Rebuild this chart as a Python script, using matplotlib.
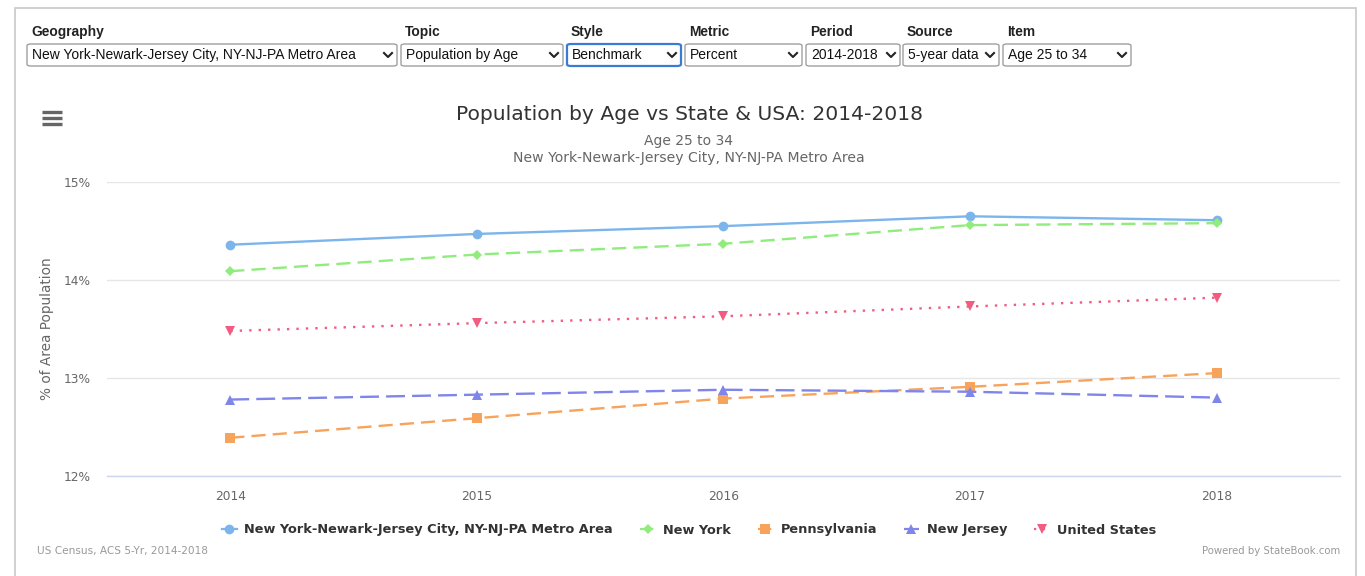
import matplotlib
matplotlib.use("Agg")
import matplotlib.pyplot as plt
from matplotlib.patches import FancyBboxPatch, Rectangle
from matplotlib.lines import Line2D

W, H = 1365, 576

years = [2014, 2015, 2016, 2017, 2018]
metro = [14.36, 14.47, 14.55, 14.65, 14.61]
new_york = [14.09, 14.26, 14.37, 14.56, 14.58]
pennsylvania = [12.39, 12.59, 12.79, 12.91, 13.05]
new_jersey = [12.78, 12.83, 12.88, 12.86, 12.80]
united_states = [13.48, 13.56, 13.63, 13.73, 13.82]
series_names = ["New York-Newark-Jersey City, NY-NJ-PA Metro Area", "New York",
                "Pennsylvania", "New Jersey", "United States"]
y_ticks = [12, 13, 14, 15]
y_tick_labels = ["12%", "13%", "14%", "15%"]

control_labels = ["Geography", "Topic", "Style", "Metric", "Period", "Source", "Item"]
control_values = ["New York-Newark-Jersey City, NY-NJ-PA Metro Area", "Population by Age",
                  "Benchmark", "Percent", "2014-2018", "5-year data", "Age 25 to 34"]

title = "Population by Age vs State & USA: 2014-2018"
subtitle1 = "Age 25 to 34"
subtitle2 = "New York-Newark-Jersey City, NY-NJ-PA Metro Area"
y_label = "% of Area Population"
credit_left = "US Census, ACS 5-Yr, 2014-2018"
credit_right = "Powered by StateBook.com"

fig = plt.figure(figsize=(W / 100, H / 100), dpi=100)
fig.patch.set_facecolor("white")

def fx(px):
    return px / W

def fy(py):
    return 1 - py / H

# container border
fig.add_artist(Rectangle((fx(15), fy(590)), fx(1356) - fx(15), fy(8) - fy(590),
                         transform=fig.transFigure, fill=False, edgecolor="#c8c8c8", lw=1.2))

# controls
box_x = [(27, 397), (401, 563), (567, 681), (685, 802), (806, 900), (903, 999), (1003, 1131)]
ctrl_font = "Liberation Sans"
for (x0, x1), lab, val in zip(box_x, control_labels, control_values):
    fig.text(fx(x0 + 4), fy(32), lab, fontsize=9.9, fontweight="bold", family=ctrl_font,
             color="#222222", va="center", ha="left")
    is_style = lab == "Style"
    fig.add_artist(FancyBboxPatch((fx(x0), fy(66)), fx(x1) - fx(x0), fy(44) - fy(66),
                                  boxstyle="round,pad=0,rounding_size=0.003",
                                  transform=fig.transFigure, facecolor="white",
                                  edgecolor="#3a7bd5" if is_style else "#a0a0a0",
                                  lw=1.6 if is_style else 1.0))
    fig.text(fx(x0 + 5), fy(55), val, fontsize=10.0, family=ctrl_font, color="#111111",
             va="center", ha="left")
    cx = x1 - 9
    fig.add_artist(Line2D([fx(cx - 4), fx(cx), fx(cx + 4)], [fy(53), fy(57), fy(53)],
                          transform=fig.transFigure, color="#222222", lw=1.5))

# hamburger icon
for yy in (112, 118, 124):
    fig.add_artist(Line2D([fx(42), fx(62)], [fy(yy), fy(yy)], transform=fig.transFigure,
                          color="#666666", lw=2.4, solid_capstyle="butt"))

# titles
fig.text(fx(689), fy(114), title, fontsize=14.6, color="#333333", ha="center", va="center",
         family="DejaVu Sans")
fig.text(fx(689), fy(141), subtitle1, fontsize=10.0, color="#666666", ha="center", va="center",
         family="DejaVu Sans")
fig.text(fx(689), fy(158), subtitle2, fontsize=10.1, color="#666666", ha="center", va="center",
         family="DejaVu Sans")

# axes
ax = fig.add_axes([fx(107), fy(476), fx(1340) - fx(107), fy(182) - fy(476)])
ax.set_xlim(2013.5, 2018.5)
ax.set_ylim(12, 15)
ax.set_yticks(y_ticks)
ax.set_yticklabels(y_tick_labels)
ax.set_xticks(years)
ax.set_xticklabels([str(y) for y in years])
for s in ("top", "right", "left"):
    ax.spines[s].set_visible(False)
ax.spines["bottom"].set_color("#ccd6eb")
ax.spines["bottom"].set_linewidth(1.0)
ax.grid(axis="y", color="#e6e6e6", lw=1.0)
ax.set_axisbelow(True)
ax.tick_params(axis="both", length=0, colors="#666666", labelsize=8.8)
ax.tick_params(axis="y", pad=12)
ax.tick_params(axis="x", pad=10)
for lab in ax.get_xticklabels() + ax.get_yticklabels():
    lab.set_family("DejaVu Sans")
ax.set_ylabel(y_label, color="#666666", fontsize=9.8, family="DejaVu Sans")
ax.yaxis.set_label_coords(-(107 - 54) / 1233, 0.5)

colors = ["#7cb5ec", "#90ed7d", "#f7a35c", "#8085e9", "#f15c80"]
styles = ["-", (0, (6, 3)), (0, (6, 3)), (0, (8, 3)), (0, (1, 3))]
markers = ["o", "D", "s", "^", "v"]
msizes = [7, 5.5, 6.5, 7, 7]
data = [metro, new_york, pennsylvania, new_jersey, united_states]
for vals, c, ls, m, ms, name in zip(data, colors, styles, markers, msizes, series_names):
    ax.plot(years, vals, color=c, ls=ls, lw=1.7, marker=m, ms=ms,
            markeredgewidth=0, label=name, clip_on=False)

leg_handles = [Line2D([0], [0], color=c, lw=1.6, ls=ls, marker=m, ms=ms, markeredgewidth=0)
               for c, ls, m, ms in zip(colors, styles, markers, msizes)]
leg = fig.legend(leg_handles, series_names, loc="center", bbox_to_anchor=(fx(689), fy(530)),
                 ncol=5, frameon=False, handlelength=1.15, handletextpad=0.6,
                 columnspacing=2.1, prop={"family": "DejaVu Sans", "weight": "bold", "size": 9.3})
for t in leg.get_texts():
    t.set_color("#333333")

fig.text(fx(37), fy(551), credit_left, fontsize=7.6, color="#999999", ha="left", va="center",
         family="DejaVu Sans")
fig.text(fx(1340), fy(551), credit_right, fontsize=7.3, color="#999999", ha="right", va="center",
         family="DejaVu Sans")

fig.savefig("out.png", dpi=100, facecolor="white")
